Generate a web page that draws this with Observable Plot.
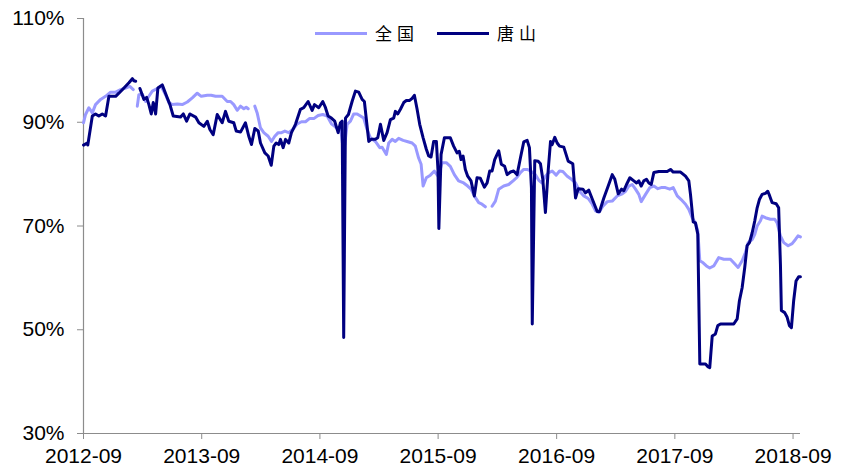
<!DOCTYPE html>
<html>
<head>
<meta charset="utf-8">
<script src="https://cdn.jsdelivr.net/npm/d3@7"></script>
<script src="https://cdn.jsdelivr.net/npm/@observablehq/plot@0.6"></script>
<style>
  body { margin: 0; background: #fff; }
  #wrap { position: relative; width: 842px; height: 470px; }
  #legend { position: absolute; top: 23px; left: 315px; display: flex; align-items: center;
            font-family: "Noto Sans CJK SC", sans-serif; font-size: 17px; line-height: 20px; color: #000; }
  .sw { width: 52px; height: 3px; }
  .lab { margin-left: 8px; letter-spacing: 5px; }
  .item { display: flex; align-items: center; }
  .item + .item { margin-left: 18px; }
</style>
</head>
<body>
<div id="wrap">
  <div id="chart"></div>
  <div id="legend"></div>
</div>
<script>
// Series names and colours
const seriesNames = ["全国", "唐山"];
const seriesColors = ["#9999FF", "#000080"];

// Y ticks (%) and X tick labels (year-month)
const yTicks = [30, 50, 70, 90, 110];
const xTickLabels = ["2012-09", "2013-09", "2014-09", "2015-09", "2016-09", "2017-09", "2018-09"];
const xDomain = ["2012-09-01", "2018-09-24"];

// 全国: [decimal year, utilisation %]  (null = gap)
const quanguo = [
[2012.667,89.9],[2012.684,91.5],[2012.712,92.8],[2012.741,91.8],[2012.768,93.4],[2012.811,94.4],[2012.853,95.0],[2012.895,95.8],
[2012.938,95.8],[2012.980,96.3],[2013.022,96.6],[2013.058,96.9],[2013.087,96.3],[2013.104,null],[2013.121,93.1],[2013.134,95.3],
[2013.163,95.4],[2013.191,94.0],[2013.219,95.0],[2013.248,96.0],[2013.290,96.5],[2013.324,96.9],[2013.360,95.3],[2013.388,93.8],
[2013.417,93.4],[2013.459,93.5],[2013.501,93.4],[2013.544,93.9],[2013.586,94.7],[2013.628,95.6],[2013.662,95.0],[2013.713,95.2],
[2013.746,95.2],[2013.783,95.0],[2013.839,95.0],[2013.882,94.0],[2013.910,94.0],[2013.937,93.4],[2013.966,92.3],[2013.994,93.1],
[2014.022,92.6],[2014.042,92.9],[2014.059,92.6],[2014.085,null],[2014.115,93.1],[2014.135,91.8],[2014.163,88.9],[2014.191,88.0],
[2014.228,87.3],[2014.256,86.3],[2014.284,87.3],[2014.313,88.0],[2014.341,88.0],[2014.369,88.3],[2014.402,88.0],[2014.436,88.6],
[2014.474,89.7],[2014.510,90.1],[2014.544,90.1],[2014.577,90.7],[2014.614,90.7],[2014.651,91.3],[2014.690,91.5],[2014.727,91.2],
[2014.763,89.7],[2014.791,89.2],[2014.820,88.6],[2014.839,89.2],[2014.867,84.0],[2014.896,89.6],[2014.924,90.2],[2014.952,91.6],
[2014.981,91.6],[2015.009,91.2],[2015.036,90.8],[2015.065,88.6],[2015.093,87.0],[2015.135,86.3],[2015.172,85.1],[2015.192,85.2],
[2015.228,83.8],[2015.248,86.0],[2015.277,86.7],[2015.304,86.3],[2015.332,86.9],[2015.370,86.5],[2015.403,86.3],[2015.446,86.0],
[2015.473,85.4],[2015.501,83.1],[2015.522,81.9],[2015.539,77.7],[2015.566,79.3],[2015.600,79.8],[2015.634,80.6],[2015.668,79.5],
[2015.699,82.2],[2015.735,82.2],[2015.769,81.5],[2015.803,79.9],[2015.839,78.7],[2015.882,78.3],[2015.916,77.7],[2015.944,77.1],
[2015.972,75.8],[2016.009,74.5],[2016.037,74.2],[2016.065,73.7],[2016.090,null],[2016.122,73.8],[2016.150,74.8],[2016.178,77.1],
[2016.220,77.7],[2016.262,78.0],[2016.304,78.8],[2016.333,79.4],[2016.361,80.3],[2016.389,80.9],[2016.418,80.9],[2016.446,80.6],
[2016.488,79.9],[2016.516,78.8],[2016.544,78.3],[2016.572,79.6],[2016.600,80.3],[2016.629,80.6],[2016.663,79.8],[2016.691,80.6],
[2016.719,80.5],[2016.756,79.6],[2016.792,79.0],[2016.826,78.3],[2016.860,76.7],[2016.896,75.8],[2016.933,75.3],[2016.967,74.2],
[2016.995,72.9],[2017.023,72.6],[2017.057,73.8],[2017.094,74.7],[2017.136,74.8],[2017.178,75.8],[2017.221,76.2],[2017.249,76.7],
[2017.277,77.7],[2017.305,78.0],[2017.333,77.1],[2017.361,76.1],[2017.381,74.7],[2017.418,76.1],[2017.454,77.4],[2017.488,77.7],
[2017.522,77.2],[2017.550,77.4],[2017.586,77.4],[2017.623,77.1],[2017.652,77.4],[2017.686,75.8],[2017.719,75.1],[2017.756,74.2],
[2017.784,73.2],[2017.812,71.6],[2017.840,70.6],[2017.860,69.0],[2017.877,63.3],[2017.905,62.9],[2017.933,62.3],[2017.961,61.9],
[2017.995,62.3],[2018.037,63.9],[2018.080,63.6],[2018.136,63.6],[2018.164,62.9],[2018.201,62.0],[2018.235,63.3],[2018.263,64.9],
[2018.286,66.8],[2018.320,67.4],[2018.342,68.4],[2018.362,70.0],[2018.390,71.0],[2018.404,71.9],[2018.432,71.6],[2018.474,71.3],
[2018.511,71.3],[2018.531,70.6],[2018.559,68.1],[2018.587,66.8],[2018.624,66.2],[2018.658,66.6],[2018.686,67.4],[2018.708,68.1],
[2018.728,67.9]
];

// 唐山: [decimal year, utilisation %]  (null = gap)
const tangshan = [
[2012.667,85.6],[2012.698,86.0],[2012.703,85.6],[2012.741,91.2],[2012.768,91.6],[2012.796,91.2],[2012.825,91.6],[2012.853,91.2],
[2012.881,95.0],[2012.938,95.0],[2012.965,95.6],[2013.008,96.6],[2013.050,97.6],[2013.079,98.4],[2013.092,98.0],[2013.107,97.9],
[2013.125,null],[2013.143,96.5],[2013.177,94.4],[2013.200,94.8],[2013.219,93.4],[2013.239,91.6],[2013.256,93.8],[2013.276,91.6],
[2013.295,96.6],[2013.332,97.2],[2013.369,95.0],[2013.397,93.4],[2013.425,91.2],[2013.487,91.0],[2013.510,91.6],[2013.538,90.2],
[2013.566,91.6],[2013.614,91.0],[2013.642,89.9],[2013.684,89.2],[2013.713,90.2],[2013.735,88.6],[2013.763,87.6],[2013.797,91.5],
[2013.839,89.9],[2013.867,92.1],[2013.895,90.2],[2013.937,89.9],[2013.958,88.3],[2013.994,88.1],[2014.036,89.9],[2014.064,87.3],
[2014.087,85.7],[2014.115,88.8],[2014.144,88.3],[2014.163,86.0],[2014.200,84.1],[2014.228,83.5],[2014.254,81.7],[2014.276,85.4],
[2014.296,86.0],[2014.318,85.7],[2014.332,86.7],[2014.355,85.1],[2014.375,86.7],[2014.402,86.0],[2014.425,88.0],[2014.459,89.6],
[2014.501,92.5],[2014.529,92.8],[2014.566,94.0],[2014.600,92.3],[2014.620,93.4],[2014.656,92.8],[2014.690,94.0],[2014.713,92.8],
[2014.735,91.2],[2014.763,90.8],[2014.791,90.2],[2014.820,88.0],[2014.839,89.9],[2014.854,90.2],[2014.867,48.5],[2014.882,90.8],
[2014.907,91.5],[2014.938,94.0],[2014.966,96.0],[2014.994,95.8],[2015.023,94.4],[2015.042,94.0],[2015.079,86.3],[2015.099,86.7],
[2015.135,86.7],[2015.155,87.0],[2015.178,89.6],[2015.206,86.5],[2015.234,88.0],[2015.262,90.5],[2015.290,90.8],[2015.304,92.1],
[2015.324,91.6],[2015.347,92.5],[2015.375,93.8],[2015.397,94.2],[2015.425,94.2],[2015.446,94.6],[2015.465,95.2],[2015.488,92.5],
[2015.510,89.6],[2015.539,87.0],[2015.566,84.8],[2015.586,83.5],[2015.606,83.3],[2015.628,86.3],[2015.651,86.3],[2015.665,80.6],
[2015.672,69.5],[2015.691,83.8],[2015.719,87.0],[2015.769,87.0],[2015.797,85.4],[2015.826,84.1],[2015.845,84.4],[2015.860,82.8],
[2015.877,83.5],[2015.896,80.9],[2015.916,79.6],[2015.944,78.7],[2015.972,75.8],[2015.995,79.3],[2016.023,79.2],[2016.057,77.5],
[2016.080,78.3],[2016.102,80.6],[2016.122,80.6],[2016.144,82.8],[2016.178,84.5],[2016.200,81.9],[2016.228,81.5],[2016.249,79.9],
[2016.277,80.4],[2016.304,80.6],[2016.333,79.9],[2016.361,83.1],[2016.389,86.2],[2016.418,86.5],[2016.437,85.1],[2016.454,77.4],
[2016.461,51.1],[2016.482,82.6],[2016.511,82.5],[2016.530,82.0],[2016.550,79.0],[2016.572,72.6],[2016.595,80.6],[2016.615,86.3],
[2016.629,85.7],[2016.651,87.1],[2016.671,86.0],[2016.691,85.4],[2016.727,85.2],[2016.764,82.5],[2016.803,82.0],[2016.826,75.4],
[2016.849,77.2],[2016.888,77.1],[2016.910,76.4],[2016.938,76.9],[2016.972,74.9],[2017.009,72.8],[2017.029,72.8],[2017.065,75.4],
[2017.102,77.7],[2017.136,79.9],[2017.158,79.0],[2017.187,76.2],[2017.215,77.1],[2017.234,76.8],[2017.257,78.0],[2017.285,79.3],
[2017.319,78.7],[2017.342,78.3],[2017.361,78.7],[2017.381,77.7],[2017.403,78.7],[2017.426,79.0],[2017.446,78.3],[2017.466,78.0],
[2017.488,80.3],[2017.530,80.5],[2017.601,80.5],[2017.629,80.9],[2017.652,80.4],[2017.714,80.4],[2017.756,79.6],[2017.784,78.7],
[2017.798,76.1],[2017.821,70.8],[2017.840,70.6],[2017.860,68.4],[2017.877,43.4],[2017.925,43.4],[2017.944,42.9],[2017.961,42.7],
[2017.982,48.8],[2018.009,49.2],[2018.029,50.8],[2018.052,51.1],[2018.164,51.1],[2018.193,52.1],[2018.212,55.6],[2018.235,58.1],
[2018.257,62.0],[2018.277,66.2],[2018.297,66.8],[2018.320,68.7],[2018.342,71.0],[2018.362,73.5],[2018.381,75.1],[2018.404,76.1],
[2018.432,76.3],[2018.452,76.7],[2018.468,75.8],[2018.489,74.5],[2018.523,74.3],[2018.544,73.5],[2018.559,62.6],[2018.567,53.7],
[2018.595,53.3],[2018.616,52.4],[2018.635,50.8],[2018.652,50.4],[2018.671,55.6],[2018.691,59.4],[2018.713,60.2],[2018.728,60.2]
];

// decimal year -> Date
const toDate = d => {
  const y = Math.floor(d);
  const a = Date.UTC(y, 0, 1), b = Date.UTC(y + 1, 0, 1);
  return new Date(a + (d - y) * (b - a));
};
const rows = series => series.map(([d, v]) => ({date: toDate(d), value: v}));

const xStart = new Date(xDomain[0]);
const axisColor = "#8c8c8c";

const chart = Plot.plot({
  width: 842,
  height: 470,
  marginLeft: 83,
  marginRight: 42,
  marginTop: 18,
  marginBottom: 37,
  style: {fontFamily: "'Liberation Sans', Arial, sans-serif", fontSize: "21px", color: "#000", background: "#fff"},
  x: {type: "utc", domain: xDomain.map(s => new Date(s))},
  y: {domain: [yTicks[0], yTicks[yTicks.length - 1]]},
  marks: [
    Plot.axisY({ticks: yTicks, tickFormat: d => d + "%", tickSize: 6, tickPadding: 13, stroke: axisColor, fill: "#000", label: null}),
    Plot.axisX({ticks: xTickLabels.map(s => new Date(s + "-01")), tickFormat: d3.utcFormat("%Y-%m"), tickSize: 6, tickPadding: 9, stroke: axisColor, fill: "#000", label: null}),
    Plot.ruleX([xStart], {stroke: axisColor, strokeWidth: 1.2}),
    Plot.ruleY([yTicks[0]], {stroke: axisColor, strokeWidth: 1.2}),
    Plot.line(rows(quanguo), {x: "date", y: "value", stroke: seriesColors[0], strokeWidth: 3}),
    Plot.line(rows(tangshan), {x: "date", y: "value", stroke: seriesColors[1], strokeWidth: 3})
  ]
});
document.getElementById("chart").appendChild(chart);

// Legend
const legend = document.getElementById("legend");
seriesNames.forEach((name, i) => {
  const item = document.createElement("div");
  item.className = "item";
  const sw = document.createElement("div");
  sw.className = "sw";
  sw.style.background = seriesColors[i];
  const lab = document.createElement("span");
  lab.className = "lab";
  lab.textContent = name;
  item.appendChild(sw);
  item.appendChild(lab);
  legend.appendChild(item);
});
</script>
</body>
</html>
